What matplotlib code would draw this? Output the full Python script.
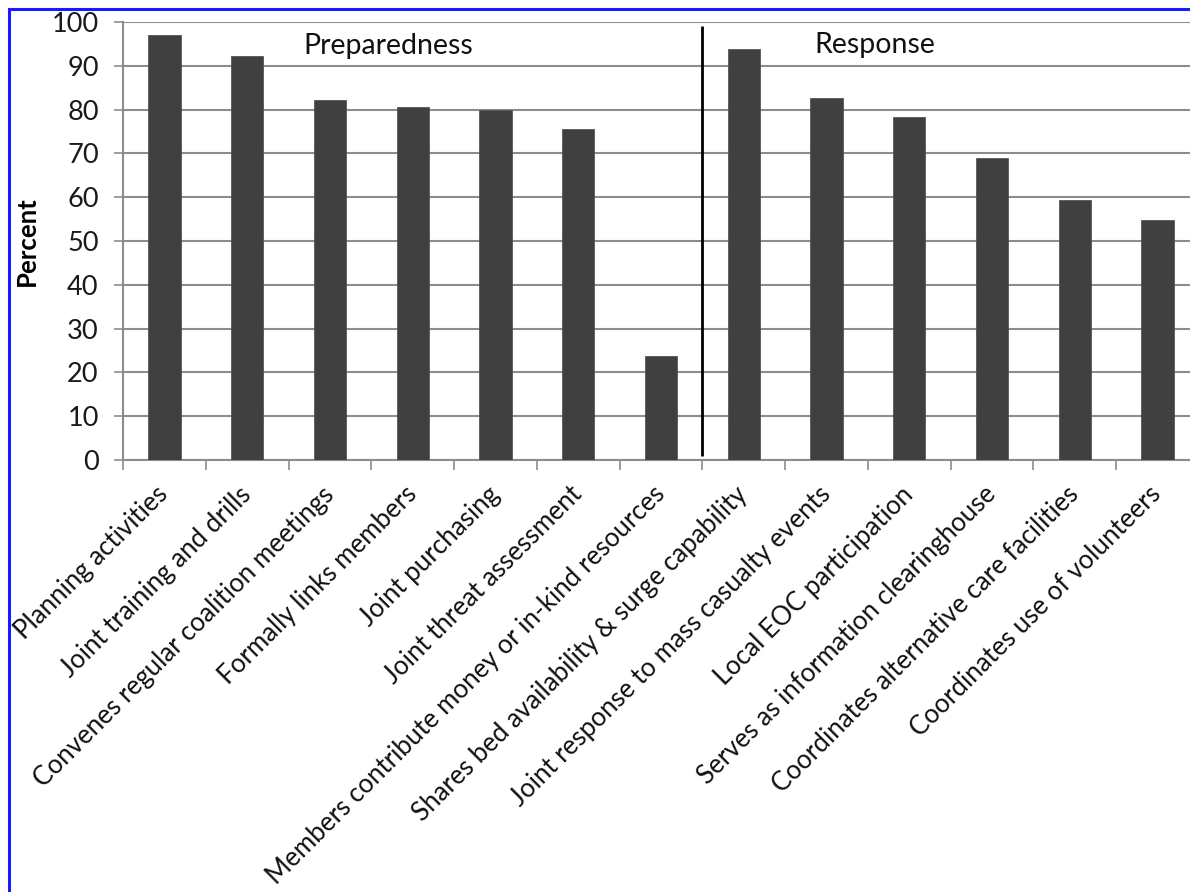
import matplotlib
matplotlib.use("Agg")
import matplotlib.pyplot as plt
from matplotlib.patches import Rectangle
from matplotlib.ticker import FixedLocator, NullFormatter

categories = [
    "Planning activities",
    "Joint training and drills",
    "Convenes regular coalition meetings",
    "Formally links members",
    "Joint purchasing",
    "Joint threat assessment",
    "Members contribute money or in-kind resources",
    "Shares bed availability & surge capability",
    "Joint response to mass casualty events",
    "Local EOC participation",
    "Serves as information clearinghouse",
    "Coordinates alternative care facilities",
    "Coordinates use of volunteers",
]
percent = [97.0, 92.3, 82.2, 80.5, 79.8, 75.6, 23.7, 93.8, 82.6, 78.3, 69.0, 59.4, 54.7]
section_labels = ["Preparedness", "Response"]
n_preparedness = 7

FONT = ["Lato", "DejaVu Sans"]
plt.rcParams["font.family"] = FONT

W, H = 1190, 892
fig = plt.figure(figsize=(W / 100, H / 100), dpi=100)
fig.patch.set_facecolor("white")

# axes spans past the right edge of the canvas
left_px, right_px, top_px, bottom_px = 123, 1199, 22, 460
ax = fig.add_axes([left_px / W, (H - bottom_px) / H,
                   (right_px - left_px) / W, (bottom_px - top_px) / H])

x = list(range(len(categories)))
ax.bar(x, percent, width=0.39, color="#404040", edgecolor="#555555",
       linewidth=0.6, zorder=3)

ax.set_xlim(-0.5, len(categories) - 0.5)
ax.set_ylim(0, 100)
ax.set_yticks(range(0, 101, 10))
ax.yaxis.grid(True, color="#8c8c8c", linewidth=1.5, zorder=0)
ax.set_axisbelow(True)

for s in ("top", "right"):
    ax.spines[s].set_visible(False)
for s in ("left", "bottom"):
    ax.spines[s].set_color("#8c8c8c")
    ax.spines[s].set_linewidth(1.5)

ax.tick_params(axis="y", length=6.5, width=1.2, color="#8c8c8c", pad=11,
               labelsize=19.5, labelcolor="#1a1a1a")

# category boundary ticks below the axis, labels at category centres
ax.set_xticks(x)
ax.set_xticklabels(categories, rotation=45, ha="right", va="center",
                   rotation_mode="anchor", fontsize=18.6, color="#111111")
ax.tick_params(axis="x", which="major", length=0, pad=22)
ax.xaxis.set_minor_locator(FixedLocator([i - 0.5 for i in range(len(categories) + 1)]))
ax.xaxis.set_minor_formatter(NullFormatter())
ax.tick_params(axis="x", which="minor", length=7, width=1.2, color="#8c8c8c")

ax.set_ylabel("Percent", fontsize=18.5, fontweight="bold")
ax.yaxis.set_label_coords(-0.078, 0.5)

# divider between the two phases
ax.plot([n_preparedness - 0.5, n_preparedness - 0.5], [1, 99], color="black",
        linewidth=2, zorder=4, solid_capstyle="butt")

ax.text(1.68, 94.5, section_labels[0], fontsize=20.5, ha="left", va="center",
        color="#111111", zorder=5)
ax.text(7.85, 94.7, section_labels[1], fontsize=20.5, ha="left", va="center",
        color="#111111", zorder=5)

# blue frame around the figure
fig.patches.append(Rectangle((8.5 / W, -0.1), 1.2, (H - 9) / H + 0.1,
                             transform=fig.transFigure, fill=False,
                             edgecolor="#1a1aff", linewidth=2.2, zorder=10))

fig.savefig("out.png", dpi=100, facecolor="white")
